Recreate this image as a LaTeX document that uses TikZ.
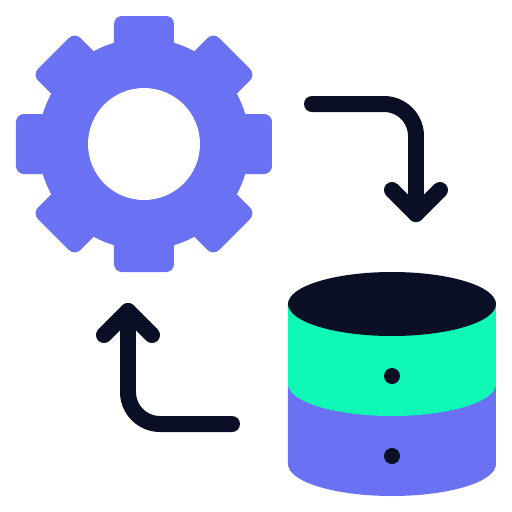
\documentclass[tikz,border=0pt]{standalone}
\usepackage{xcolor}
\usetikzlibrary{positioning}
\definecolor{gearblue}{HTML}{6A71F3}
\definecolor{dbgreen}{HTML}{10F8B5}
\definecolor{inkdark}{HTML}{0A0F25}
\tikzset{
    flowline/.style={draw=inkdark, line width=0.32cm, line cap=round, line join=round},
    dbdot/.style={fill=inkdark},
}
\begin{document}
\begin{tikzpicture}[x=0.02cm, y=-0.02cm]
    \useasboundingbox (0,0) rectangle (512,512);
    \coordinate (gearcenter) at (144,144);
    \foreach \a in {0,45,...,315} {
        \fill[gearblue, rounded corners=0.16cm, rotate around={\a:(gearcenter)}]
            (114,90) -- (114,16) -- (174,16) -- (174,90) -- cycle;
    }
    \fill[gearblue] (gearcenter) circle [radius=105.5];
    \fill[white] (gearcenter) circle [radius=56];

    \coordinate (flowastart) at (312,104);
    \coordinate (flowacorner) at (416,104);
    \coordinate (flowatip) at (416,214);
    \draw[flowline, rounded corners=0.64cm] (flowastart) -- (flowacorner) -- (flowatip);
    \draw[flowline] (392,190) -- (flowatip) -- (440,190);

    \coordinate (flowbstart) at (232,424);
    \coordinate (flowbcorner) at (128,424);
    \coordinate (flowbtip) at (128,311);
    \draw[flowline, rounded corners=0.64cm] (flowbstart) -- (flowbcorner) -- (flowbtip);
    \draw[flowline] (104,335) -- (flowbtip) -- (152,335);

    \fill[gearblue] (288,384) -- (288,464) arc [start angle=180, end angle=0, x radius=104, y radius=32]
        -- (496,384) -- cycle;
    \fill[dbgreen] (288,304) -- (288,384) arc [start angle=180, end angle=0, x radius=104, y radius=32]
        -- (496,304) -- cycle;
    \fill[inkdark] (392,304) ellipse [x radius=104, y radius=32];
    \fill[dbdot] (392,376) circle [radius=8];
    \fill[dbdot] (392,456) circle [radius=8];
\end{tikzpicture}
\end{document}
